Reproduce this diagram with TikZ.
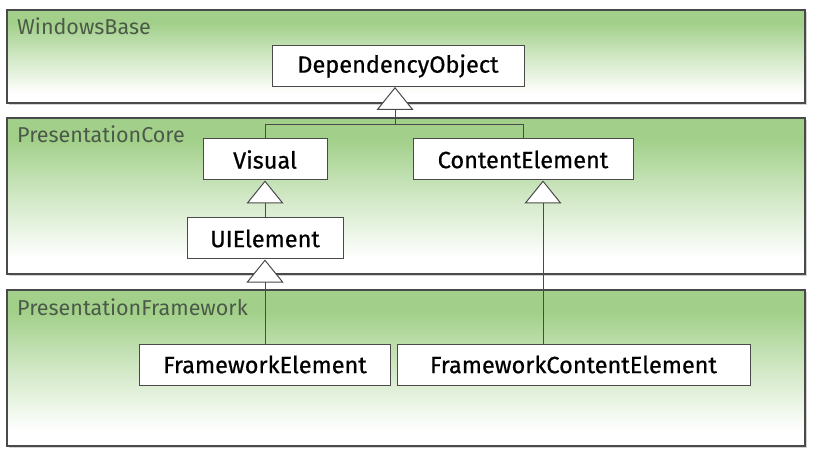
\documentclass[tikz,border=0pt]{standalone}
\usepackage{fontspec}
\setmainfont{Fira Sans}
\newfontfamily\clsfont{Fira Sans}[FakeBold=0.6]
\usetikzlibrary{arrows.meta,positioning,shadows}
\definecolor{LayerGreen}{HTML}{A2D08A}
\definecolor{LayerText}{HTML}{4B5A48}
\definecolor{EdgeGray}{HTML}{4A4A4A}
\pgfdeclareverticalshading{layershade}{100bp}{color(0bp)=(white);
 color(30bp)=(white);color(50bp)=(LayerGreen!50);color(68bp)=(LayerGreen);
 color(100bp)=(LayerGreen)}
\tikzset{layer/.style={draw=EdgeGray,line width=1.2pt,shading=layershade,
 drop shadow={shadow xshift=1.5pt,shadow yshift=-2pt,opacity=.35}},
 cls/.style={draw=EdgeGray,fill=white,line width=1pt,minimum height=41pt,
 inner sep=0pt,font=\clsfont\fontsize{23.5}{27}\selectfont},
 tier/.style={anchor=north west,inner sep=0pt,text=LayerText,
 font=\fontsize{21.5}{25}\selectfont},
 inherit/.style={draw=EdgeGray,line width=1pt,
 -{Triangle[length=23pt,width=37pt,fill=white]}}}

\begin{document}
\begin{tikzpicture}[x=1pt,y=-1pt]
\useasboundingbox (0,0) rectangle (814,457);
% assembly layers
\path[layer] (7,10) rectangle (805,103);
\path[layer] (7,118) rectangle (805,274);
\path[layer] (7,290) rectangle (805,446);
\node[tier] (wb) at (17,18) {WindowsBase};
\node[tier] (pc) at (17,126) {PresentationCore};
\node[tier] (pf) at (17,299) {PresentationFramework};
% classes
\node[cls,minimum width=252pt] (dep) at (398,66) {DependencyObject};
\node[cls,minimum width=124pt] (vis) at (265,159.5) {Visual};
\node[cls,minimum width=220pt] (ce) at (523,159.5) {ContentElement};
\node[cls,minimum width=156pt] (uie) at (265,238.5) {UIElement};
\node[cls,minimum width=251pt] (fe) at (265,364.5) {FrameworkElement};
\node[cls,minimum width=353pt] (fce) at (573.5,364.5) {FrameworkContentElement};
% inheritance
\coordinate (join) at (395,125);
\coordinate (ceTap) at (543,0);
\draw[EdgeGray,line width=1pt] (vis.north) -- (vis.north |- join)
 -- (ce.north |- join) -- (ce.north);
\draw[inherit] (join) -- (join |- dep.south);
\draw[inherit] (uie) -- (vis);
\draw[inherit] (fe) -- (uie);
\draw[inherit] (fce.north -| ceTap) -- (ce.south -| ceTap);
\end{tikzpicture}
\end{document}
